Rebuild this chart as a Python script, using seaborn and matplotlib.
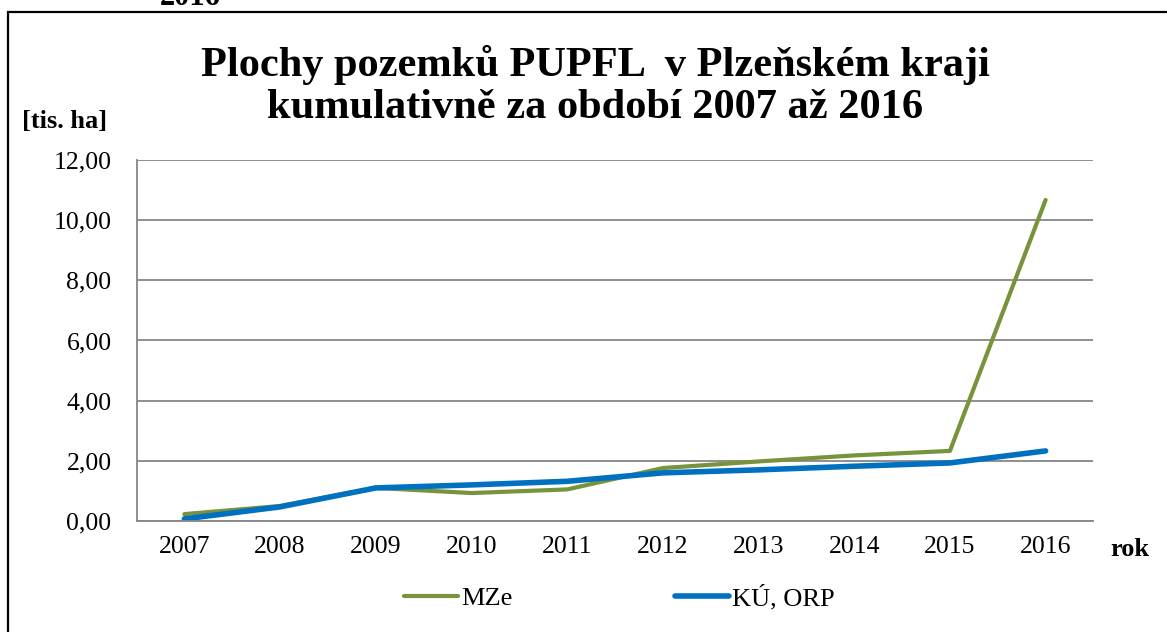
import seaborn as sns
import matplotlib.pyplot as plt
import pandas as pd
from matplotlib.patches import Rectangle
from matplotlib.lines import Line2D

# data
years = ['2007', '2008', '2009', '2010', '2011', '2012', '2013', '2014', '2015', '2016']
mze = [0.23, 0.50, 1.10, 0.93, 1.05, 1.76, 1.98, 2.18, 2.33, 10.67]
ku_orp = [0.07, 0.47, 1.10, 1.20, 1.32, 1.60, 1.70, 1.82, 1.93, 2.33]
series_names = ['MZe', 'KÚ, ORP']
colors = ['#77933C', '#0070C0']

df = pd.DataFrame({'rok': years * 2,
                   'hodnota': mze + ku_orp,
                   'serie': [series_names[0]] * len(years) + [series_names[1]] * len(years)})

sns.set_style('white')
plt.rcParams['font.family'] = ['Liberation Serif', 'DejaVu Serif']
plt.rcParams['text.color'] = 'black'
plt.rcParams['xtick.labelcolor'] = 'black'
plt.rcParams['ytick.labelcolor'] = 'black'

fig = plt.figure(figsize=(11.67, 6.32), dpi=100)
ax = fig.add_axes([0.117, 0.1756, 0.82, 0.5714])

sns.lineplot(data=df, x='rok', y='hodnota', hue='serie', palette=colors,
             sort=False, ax=ax, legend=False)
for line, lw in zip(ax.get_lines(), [3.0, 4.0]):
    line.set_linewidth(lw)
    line.set_solid_capstyle('round')

ax.set_xlim(-0.5, len(years) - 0.5)
ax.set_ylim(0, 12)
ax.set_yticks(range(0, 13, 2))
ax.set_yticklabels(['%d,00' % v for v in range(0, 13, 2)])
ax.yaxis.grid(True, color='#868686', linewidth=1.3)
ax.set_axisbelow(True)
ax.set_xlabel('')
ax.set_ylabel('')
for s in ['top', 'right']:
    ax.spines[s].set_visible(False)
for s in ['left', 'bottom']:
    ax.spines[s].set_color('#868686')
    ax.spines[s].set_linewidth(1.3)

ax.set_xticks([i - 0.5 for i in range(len(years) + 1)], minor=True)
ax.tick_params(axis='x', which='major', length=0, labelsize=18.5, pad=11)
ax.tick_params(axis='x', which='minor', length=6, color='#868686', width=1.3, direction='out')
ax.tick_params(axis='y', length=6, color='#868686', width=1.3, direction='out',
               labelsize=18.5, pad=12)

fig.text(0.51, 0.864, 'Plochy pozemků PUPFL  v Plzeňském kraji\nkumulativně za období 2007 až 2016',
         ha='center', va='center', fontsize=30.5, fontweight='bold', linespacing=1.12)
fig.text(0.019, 0.807, '[tis. ha]', ha='left', va='center', fontsize=19, fontweight='bold')
fig.text(0.951, 0.131, 'rok', ha='left', va='center', fontsize=19, fontweight='bold')
fig.text(0.163, 0.992, '2016', ha='center', va='baseline', fontsize=22, fontweight='bold')

fig.patches.append(Rectangle((0.007, -0.01), 1.0, 0.991, transform=fig.transFigure,
                             fill=False, edgecolor='black', linewidth=1.6))

handles = [Line2D([0], [0], color=colors[0], linewidth=3),
           Line2D([0], [0], color=colors[1], linewidth=4)]
fig.legend(handles, series_names, loc='center', bbox_to_anchor=(0.531, 0.055), ncol=2,
           frameon=False, fontsize=19, handlelength=2.05, handletextpad=0.12,
           columnspacing=6.15)

fig.savefig('out.png', dpi=100)
